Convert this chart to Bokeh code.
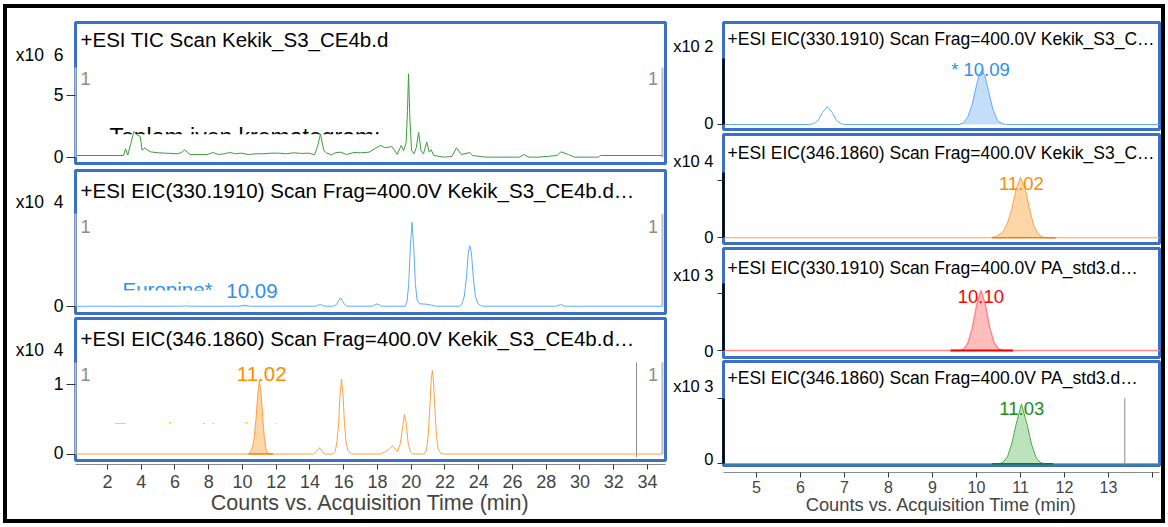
import numpy as np
from bokeh.plotting import figure
from bokeh.layouts import row, column
from bokeh.models import Range1d, FixedTicker, Label, BoxAnnotation, LinearAxis
from bokeh.embed import file_html
from bokeh.resources import INLINE

FONT = "Liberation Sans"

# ---------------- data ----------------
# TIC, Kekik_S3_CE4b.d (counts x10^6)
tic_time = [0.0, 2.95, 3.07, 3.2, 3.4, 3.56, 3.78, 3.94, 4.05, 4.23, 4.34, 4.57, 5.0, 5.46,
            6.13, 6.4, 6.57, 6.75, 6.91, 7.4, 7.91, 8.25, 8.58, 8.9, 9.25, 9.6, 9.92, 10.36,
            10.8, 11.26, 11.7, 12.15, 12.6, 13.04, 13.5, 13.93, 14.27, 14.45, 14.62, 14.82,
            15.0, 15.27, 15.55, 15.83, 16.16, 16.61, 17.0, 17.5, 17.83, 18.17, 18.5, 18.84,
            19.02, 19.17, 19.4, 19.55, 19.7, 19.78, 19.84, 19.92, 20.02, 20.17, 20.3, 20.44,
            20.58, 20.73, 20.92, 21.07, 21.18, 21.34, 21.96, 22.41, 22.68, 22.97, 23.48, 23.64,
            24.41, 26.42, 26.69, 26.98, 27.54, 28.65, 28.87, 29.32, 29.66, 31.1, 31.22, 34.9]
tic_signal = [0.16, 0.16, 0.7, 0.2, 1.2, 2.1, 1.8, 1.7, 0.6, 0.78, 0.62, 0.45, 0.38, 0.35,
              0.3, 0.4, 0.62, 0.4, 0.24, 0.24, 0.24, 0.4, 0.24, 0.3, 0.4, 0.3, 0.35, 0.24,
              0.3, 0.3, 0.35, 0.35, 0.3, 0.38, 0.33, 0.35, 0.22, 0.9, 1.9, 0.56,
              0.35, 0.22, 0.4, 0.43, 0.24, 0.4, 0.38, 0.43, 0.7, 0.97, 0.78, 0.89,
              0.56, 0.24, 0.97, 0.56, 1.2, 3.8, 6.75, 3.2, 0.56, 0.3, 0.8, 2.04,
              0.56, 0.3, 1.24, 0.43, 0.62, 0.16, 0.03, 0.08, 0.78, 0.24, 0.4, 0.16,
              0.03, 0.03, 0.24, 0.03, 0.03, 0.16, 0.46, 0.24, 0.03, 0.03, 0.16, 0.16]

# EIC 330.1910, Kekik_S3_CE4b.d (raw counts)
eic330_time = [0.0, 6.2, 6.3, 6.4, 6.5, 6.61, 6.72, 6.82, 6.92, 7.0,
               9.6, 9.7, 9.8, 9.9, 10.0, 10.06, 10.12, 10.19, 10.28, 10.38, 10.48, 10.58, 10.68,
               14.3, 14.45, 14.6, 14.75, 14.9,
               15.4, 15.55, 15.7, 15.81, 15.92, 16.05, 16.2,
               17.7, 17.85, 17.98, 18.1, 18.25,
               19.65, 19.75, 19.85, 19.95, 20.05, 20.15, 20.25, 20.35, 20.5, 20.9, 21.2, 21.5,
               22.85, 23.0, 23.15, 23.27, 23.38, 23.47, 23.57, 23.68, 23.8, 23.95, 24.15, 24.3,
               28.6, 28.85, 29.1, 34.9]
eic330_counts = [0, 0, 2, 10, 30, 45, 30, 10, 2, 0,
                 0, 4, 18, 50, 98, 125, 135, 122, 80, 35, 10, 2, 0,
                 0, 120, 250, 120, 0,
                 0, 200, 800, 1220, 800, 250, 0,
                 0, 200, 350, 200, 0,
                 0, 600, 3200, 8800, 12350, 8800, 3200, 900, 350, 300, 150, 0,
                 0, 300, 1500, 4200, 7800, 8900, 7800, 4200, 1500, 400, 50, 0,
                 0, 250, 0, 0]

# EIC 346.1860, Kekik_S3_CE4b.d (counts x10^4)
eic346_time = [0.0, 10.3, 10.45, 10.6, 10.7, 10.8, 10.9, 11.0, 11.1, 11.2, 11.3, 11.4, 11.5, 11.6,
               14.2, 14.4, 14.56, 14.75, 14.85,
               15.35, 15.5, 15.6, 15.7, 15.78, 15.87, 15.96, 16.04, 16.14, 16.25, 16.4, 16.5,
               18.2, 18.6, 18.9, 19.1, 19.2, 19.35, 19.5, 19.6, 19.7, 19.82, 19.95, 20.1,
               20.75, 20.9, 21.0, 21.1, 21.18, 21.25, 21.32, 21.4, 21.5, 21.6, 21.75, 21.9, 34.9]
eic346_signal = [0, 0, 0.02, 0.1, 0.25, 0.5, 0.85, 1.06, 0.88, 0.52, 0.22, 0.07, 0.015, 0,
                 0, 0.04, 0.09, 0.03, 0,
                 0, 0.04, 0.18, 0.45, 0.85, 1.08, 0.85, 0.45, 0.18, 0.05, 0.01, 0,
                 0, 0.05, 0.12, 0.05, 0.04, 0.15, 0.4, 0.57, 0.45, 0.15, 0.04, 0,
                 0, 0.05, 0.25, 0.65, 1.05, 1.2, 1.05, 0.65, 0.25, 0.07, 0.01, 0, 0]

# EIC 330.1910, PA_std3.d (counts x10^3)
std330_time = [0.0, 9.6, 9.7, 9.8, 9.9, 10.0, 10.1, 10.2, 10.3, 10.4, 10.5, 10.6, 14.5]
std330_signal = [0, 0, 0.02, 0.12, 0.38, 0.78, 1.05, 0.8, 0.4, 0.13, 0.03, 0, 0]

# EIC 346.1860, PA_std3.d (counts x10^3)
std346_time = [0.0, 10.5, 10.6, 10.7, 10.8, 10.9, 11.02, 11.15, 11.25, 11.35, 11.45, 11.55, 14.5]
std346_signal = [0, 0, 0.02, 0.1, 0.3, 0.6, 0.91, 0.6, 0.3, 0.1, 0.02, 0, 0]

# integration windows (fill) and baselines
eic330_window = (9.6, 10.68)
eic346_window = (10.45, 11.6)
eic346_baseline = (10.35, 11.8)
std330_window = (9.6, 10.6)
std330_baseline = (9.41, 10.83)
std346_window = (10.5, 11.55)
std346_baseline = (10.36, 11.75)

left_end_marker = 34.89
left_cut_marker = 33.35
right_cut_marker = 13.37

left_ticks = list(range(2, 35, 2))
right_ticks = list(range(5, 15))

TITLE_TIC = "+ESI TIC Scan Kekik_S3_CE4b.d"
TITLE_L330 = "+ESI EIC(330.1910) Scan Frag=400.0V Kekik_S3_CE4b.d\u2026"
TITLE_L346 = "+ESI EIC(346.1860) Scan Frag=400.0V Kekik_S3_CE4b.d\u2026"
TITLE_R330 = "+ESI EIC(330.1910) Scan Frag=400.0V Kekik_S3_C\u2026"
TITLE_R346 = "+ESI EIC(346.1860) Scan Frag=400.0V Kekik_S3_C\u2026"
TITLE_S330 = "+ESI EIC(330.1910) Scan Frag=400.0V PA_std3.d\u2026"
TITLE_S346 = "+ESI EIC(346.1860) Scan Frag=400.0V PA_std3.d\u2026"
X_TITLE = "Counts vs. Acquisition Time (min)"

# ---------------- styling ----------------
BOX_BLUE = "#3c6fc7"
GRAY_BAR = "#bdbdbd"
MARK_GRAY = "#8c8c8c"

left_x = Range1d(0.1037, 35.07)
right_x = Range1d(4.25, 14.159)
LFW, RFW = 590, 436
LML, RML = 68, 55

t330 = np.array(eic330_time)
c330 = np.array(eic330_counts, dtype=float)


def panel(xr, yr, fw, fh, ml, mr, mt, mb):
    p = figure(x_range=xr, y_range=Range1d(*yr), frame_width=fw, frame_height=fh,
               min_border_left=ml, min_border_right=mr, min_border_top=mt, min_border_bottom=mb,
               x_axis_location=None, output_backend="svg", toolbar_location=None)
    p.grid.visible = False
    p.outline_line_color = BOX_BLUE
    p.outline_line_width = 3
    p.outline_line_alpha = 1.0
    return p


def y_axes(p, mark_ticks, bounds, label_ticks, mult_value, mult_text,
           line_color, line_width, tick_out, lab_size, lab_standoff):
    # innermost axis: spine + tick marks
    d = p.yaxis[0]
    d.ticker = FixedTicker(ticks=mark_ticks, minor_ticks=[])
    d.bounds = bounds
    d.axis_line_color = line_color
    d.axis_line_width = line_width
    d.major_tick_line_color = "#333333"
    d.major_tick_out = tick_out
    d.major_tick_in = 0
    d.minor_tick_line_color = None
    d.major_label_overrides = {t: "" for t in mark_ticks}
    d.major_label_standoff = 0
    # tick labels + the "x10 n" multiplier
    a = LinearAxis(ticker=FixedTicker(ticks=label_ticks + [mult_value], minor_ticks=[]),
                   axis_line_color=None, major_tick_line_color=None, major_tick_out=0,
                   major_tick_in=0, minor_tick_line_color=None,
                   major_label_standoff=lab_standoff, major_label_text_font=FONT,
                   major_label_text_font_size=lab_size, major_label_text_color="black",
                   major_label_overrides={mult_value: mult_text})
    p.add_layout(a, "left")


def txt(p, fh, text, dx, dy, size, color, align="left", level="annotation"):
    # dy: distance of the text's vertical centre below the frame top (pixels)
    p.add_layout(Label(x=dx, y=fh - dy, x_units="screen", y_units="screen", text=text,
                       text_font=FONT, text_font_size=size, text_color=color,
                       text_align=align, text_baseline="middle", level=level))


def peak_label(p, text, x, y, dx, dy, size, color):
    p.add_layout(Label(x=x, y=y, x_offset=dx, y_offset=dy, text=text, text_align="center",
                       text_baseline="middle", text_font=FONT, text_font_size=size,
                       text_color=color))


def mask(p, l, r, b, t):
    p.add_layout(BoxAnnotation(left=l, right=r, bottom=b, top=t, fill_color="white",
                               fill_alpha=1.0, line_color=None, level="underlay"))


def fill_peak(p, t, v, window, color):
    t = np.asarray(t, dtype=float)
    v = np.asarray(v, dtype=float)
    m = (t >= window[0]) & (t <= window[1])
    p.varea(x=t[m], y1=np.zeros(m.sum()), y2=v[m], fill_color=color, fill_alpha=1.0)


def seg_markers(p, fh):
    txt(p, fh, "1", 10, 55.5, "18px", MARK_GRAY, align="center")
    txt(p, fh, "1", LFW - 12.5, 55.5, "18px", MARK_GRAY, align="center")


LMULT = "x10\u00a0\u00a0{}"
RMULT = "x10 {}"

# ---------------- left column ----------------
# P1: TIC (x10^6)
p1 = panel(left_x, (-0.484, 10.887), LFW, 141, LML, 3, 14, 3)
y_axes(p1, [0, 5], (0, 7.26), [0, 5], 8.27, LMULT.format(6), GRAY_BAR, 2, 9, "17.5px", 3)
txt(p1, 141, TITLE_TIC, 5, 16.8, "20.5px", "black")
seg_markers(p1, 141)
txt(p1, 141, "Toplam iyon kromatogram\u0131", 34, 114.6, "23px", "black", level="underlay")
mask(p1, 1.85, 18.9, 0.4, 1.87)
p1.segment(x0=[left_end_marker], y0=[0], x1=[left_end_marker], y1=[7.26],
           line_color=GRAY_BAR, line_width=2)
p1.line(tic_time, tic_signal, line_color="#3d9c3d", line_width=1)

# P2: EIC 330 Kekik (x10^4)
p2 = panel(left_x, (-0.107, 1.996), LFW, 143, LML, 3, 4, 2)
y_axes(p2, [0], (0, 1.36), [0], 1.539, LMULT.format(4), GRAY_BAR, 2, 9, "17.5px", 3)
txt(p2, 143, TITLE_L330, 5, 19.8, "20.5px", "black")
seg_markers(p2, 143)
txt(p2, 143, "Europine*", 47, 119.3, "20.5px", "#2f8ff0", level="underlay")
mask(p2, 2.6, 8.95, 0.05, 0.231)
p2.segment(x0=[left_end_marker], y0=[0], x1=[left_end_marker], y1=[1.36],
           line_color=GRAY_BAR, line_width=2)
fill_peak(p2, t330, c330 / 1e4, eic330_window, "#7fb6ee")
p2.line(t330, c330 / 1e4, line_color="#5eaaff", line_width=1)
peak_label(p2, "10.09", 10.09, 0.0135, 8, 14.8, "20.5px", "#2f8ff0")

# P3: EIC 346 Kekik (x10^4)
p3 = panel(left_x, (-0.0935, 1.9496), LFW, 142, LML, 3, 3, 2)
y_axes(p3, [0, 1], (0, 1.32), [0, 1], 1.503, LMULT.format(4), GRAY_BAR, 2, 9, "17.5px", 3)
txt(p3, 142, TITLE_L346, 5, 20.3, "20.5px", "black")
seg_markers(p3, 142)
txt(p3, 142, "Europine N-oxide*", 38, 110.8, "20.5px", "#ffbf00", level="underlay")
mask(p3, 2.1, 12.6, 0.12, 0.435)
p3.segment(x0=[left_end_marker], y0=[0], x1=[left_end_marker], y1=[1.32],
           line_color=GRAY_BAR, line_width=2)
p3.segment(x0=[left_cut_marker], y0=[-0.05], x1=[left_cut_marker], y1=[1.32],
           line_color=MARK_GRAY, line_width=1)
fill_peak(p3, eic346_time, eic346_signal, eic346_window, "#fdd6a8")
p3.line(eic346_time, eic346_signal, line_color="#ffa040", line_width=1)
p3.segment(x0=[eic346_baseline[0]], y0=[0], x1=[eic346_baseline[1]], y1=[0],
           line_color="#f08000", line_width=1.5)
peak_label(p3, "11.02", 11.02, 1.06, 2, 6, "20.5px", "#ff8c00")

# Left x axis
axl = figure(x_range=left_x, y_range=Range1d(0, 1), frame_width=LFW, frame_height=1,
             min_border_left=LML, min_border_right=3, min_border_top=1, min_border_bottom=55,
             y_axis_location=None, output_backend="svg", toolbar_location=None)
axl.grid.visible = False
axl.outline_line_color = None
xa = axl.xaxis[0]
xa.ticker = FixedTicker(ticks=left_ticks, minor_ticks=[])
xa.axis_line_color = "#8a8a8a"
xa.major_tick_line_color = "#333333"
xa.major_tick_out = 5
xa.major_tick_in = 0
xa.major_label_text_font = FONT
xa.major_label_text_font_size = "18px"
xa.major_label_standoff = 5
xa.axis_label = X_TITLE
xa.axis_label_text_font = FONT
xa.axis_label_text_font_size = "21.5px"
xa.axis_label_text_font_style = "normal"
xa.axis_label_standoff = 0

# ---------------- right column ----------------
r1 = panel(right_x, (-0.125, 2.55), RFW, 107, RML, 2, 14, 2)
y_axes(r1, [0], (0, 1.65), [0], 1.9625, RMULT.format(2), "black", 2.5, 6, "16.5px", 4)
txt(r1, 107, TITLE_R330, 4, 16.3, "17.5px", "black")
fill_peak(r1, t330, c330 / 1e2, eic330_window, "#c4def9")
r1.line(t330, c330 / 1e2, line_color="#5eaaff", line_width=1)
peak_label(r1, "* 10.09", 10.09, 1.35, 0, 0.7, "18.5px", "#2f8ff0")

r2 = panel(right_x, (-0.1, 1.812), RFW, 109, RML, 2, 3, 2)
y_axes(r2, [0, 1], (0, 1.15), [0], 1.339, RMULT.format(4), "black", 2.5, 6, "16.5px", 4)
txt(r2, 109, TITLE_R346, 4, 18.5, "17.5px", "black")
fill_peak(r2, eic346_time, eic346_signal, eic346_window, "#fdd6a8")
r2.line(eic346_time, eic346_signal, line_color="#ffa040", line_width=1)
r2.segment(x0=[eic346_baseline[0]], y0=[0], x1=[eic346_baseline[1]], y1=[0],
           line_color="#f08000", line_width=1.5)
peak_label(r2, "11.02", 11.02, 1.06, 0, -6.4, "18.5px", "#ff8c00")

r3 = panel(right_x, (-0.122, 1.78), RFW, 109, RML, 2, 3, 2)
y_axes(r3, [0, 1], (0, 1.17), [0], 1.318, RMULT.format(3), "black", 2.5, 6, "16.5px", 4)
txt(r3, 109, TITLE_S330, 4, 19.2, "17.5px", "black")
fill_peak(r3, std330_time, std330_signal, std330_window, "#ffbdbd")
r3.line(std330_time, std330_signal, line_color="#ff8888", line_width=1.5)
r3.segment(x0=[std330_baseline[0]], y0=[0], x1=[std330_baseline[1]], y1=[0],
           line_color="#ee0000", line_width=2)
peak_label(r3, "10.10", 10.10, 1.05, 0, -5.7, "18.5px", "#ff0000")

r4 = panel(right_x, (-0.026, 1.559), RFW, 104, RML, 2, 2, 2)
y_axes(r4, [0, 1], (0, 1.0), [0], 1.178, RMULT.format(3), "black", 2.5, 6, "16.5px", 4)
txt(r4, 104, TITLE_S346, 4, 16.5, "17.5px", "black")
r4.segment(x0=[right_cut_marker], y0=[-0.03], x1=[right_cut_marker], y1=[1.0],
           line_color=MARK_GRAY, line_width=1)
fill_peak(r4, std346_time, std346_signal, std346_window, "#bde3bd")
r4.line(std346_time, std346_signal, line_color="#45ad45", line_width=1)
r4.segment(x0=[std346_baseline[0]], y0=[0], x1=[std346_baseline[1]], y1=[0],
           line_color="#1a7a1a", line_width=1.5)
peak_label(r4, "11.03", 11.03, 0.91, 0, -4.7, "18.5px", "#1a8c1a")

axr = figure(x_range=right_x, y_range=Range1d(0, 1), frame_width=RFW, frame_height=1,
             min_border_left=RML, min_border_right=2, min_border_top=4, min_border_bottom=47,
             y_axis_location=None, output_backend="svg", toolbar_location=None)
axr.grid.visible = False
axr.outline_line_color = None
xb = axr.xaxis[0]
xb.ticker = FixedTicker(ticks=right_ticks, minor_ticks=[])
xb.major_label_overrides = {14: ""}
xb.axis_line_color = "#8a8a8a"
xb.major_tick_line_color = "#333333"
xb.major_tick_out = 5
xb.major_tick_in = 0
xb.major_label_text_font = FONT
xb.major_label_text_font_size = "16px"
xb.major_label_standoff = 3
xb.axis_label = X_TITLE
xb.axis_label_text_font = FONT
xb.axis_label_text_font_size = "18.3px"
xb.axis_label_text_font_style = "normal"
xb.axis_label_standoff = -2

left_col = column(p1, p2, p3, axl, spacing=0)
right_col = column(r1, r2, r3, r4, axr, spacing=0)
root = row(left_col, right_col, spacing=0,
           styles={"border": "4px solid black", "background-color": "white",
                   "margin": "4px 0px 0px 3px"})

open("out.html", "w").write(file_html(root, INLINE))
